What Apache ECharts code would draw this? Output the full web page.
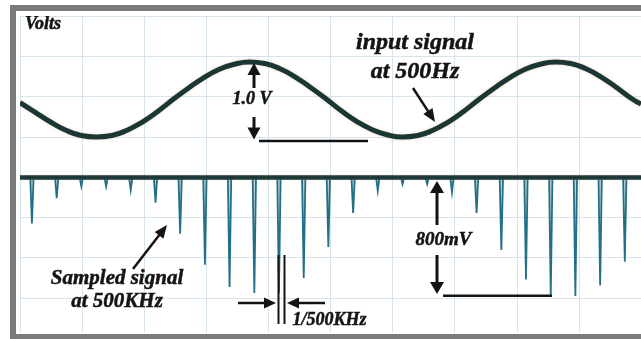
<!DOCTYPE html>
<html>
<head>
<meta charset="utf-8">
<script src="https://cdn.jsdelivr.net/npm/echarts@6/dist/echarts.min.js"></script>
<style>
  html, body { margin: 0; padding: 0; background: #fff; }
  #chart { width: 641px; height: 339px; }
</style>
</head>
<body>
<div id="chart"></div>
<script>
// Scope capture: 500 Hz input (channel 1) and its 500 kHz sampled version (channel 2).

// Time samples of the channel 1 trace, in microseconds
const INPUT_TIME_US = [
  0, 100, 200, 300, 400, 500, 600, 700, 800, 900,
  1000, 1100, 1200, 1300, 1400, 1500, 1600, 1700, 1800, 1900,
  2000, 2100, 2200, 2300, 2400, 2500, 2600, 2700, 2800, 2900,
  3000, 3100, 3200, 3300, 3400, 3500, 3600, 3700, 3800, 3900,
  4000, 4060
];
// Channel 1 voltage (1.0 V peak to peak)
const INPUT_V = [
  -0.04, -0.17, -0.30, -0.41, -0.48, -0.50, -0.48, -0.41, -0.30, -0.16,
  0.00, 0.15, 0.29, 0.40, 0.47, 0.50, 0.48, 0.41, 0.30, 0.16,
  0.01, -0.15, -0.29, -0.40, -0.47, -0.50, -0.48, -0.41, -0.30, -0.16,
  0.00, 0.15, 0.29, 0.40, 0.47, 0.50, 0.48, 0.41, 0.30, 0.16,
  0.01, -0.06
];

// Channel 2: time of each sampling pulse (microseconds) and its depth below the baseline (volts)
const SPIKE_TIME_US = [
  78, 240, 401, 563, 724, 886, 1047, 1209, 1370, 1532,
  1693, 1855, 2016, 2178, 2339, 2501, 2662, 2824, 2985, 3147,
  3308, 3470, 3631, 3793, 3954
];
const SPIKE_DEPTH_V = [
  0.31, 0.14, 0.06, 0.06, 0.085, 0.17, 0.38, 0.59, 0.74, 0.78,
  0.78, 0.68, 0.47, 0.24, 0.09, 0.045, 0.045, 0.10, 0.24, 0.49,
  0.69, 0.80, 0.80, 0.73, 0.57
];

// Screen graticule
const TIME_SPAN_US = 4060;
const TIME_DIV_US = 406;
const V_DIVS = 8;
// Channel settings: volts per division and zero level (divisions below the top)
const CH1 = { vPerDiv: 0.5367, zeroDiv: 2.075 };
const CH2 = { vPerDiv: 0.272, zeroDiv: 4.012 };

const INK = '#141414';
const FONT = '"Liberation Serif", "Times New Roman", serif';

const inputData = INPUT_TIME_US.map((t, i) => [t, INPUT_V[i]]);

const PULSE_HALF_US = 11;
const sampledData = [[0, 0]];
SPIKE_TIME_US.forEach((t, i) => {
  sampledData.push([t - PULSE_HALF_US, 0], [t, -SPIKE_DEPTH_V[i]], [t + PULSE_HALF_US, 0]);
});
sampledData.push([TIME_SPAN_US, 0]);

function label(text, x, y, size, align) {
  return {
    type: 'text', z: 50,
    style: {
      text: text, x: x, y: y,
      font: 'italic bold ' + size + 'px ' + FONT,
      fill: INK, stroke: INK, lineWidth: 0.5,
      align: align || 'center', verticalAlign: 'middle',
      textAlign: align || 'center', textVerticalAlign: 'middle'
    }
  };
}

function arrow(x1, y1, x2, y2, headLen, headW, width) {
  const dx = x2 - x1, dy = y2 - y1;
  const len = Math.sqrt(dx * dx + dy * dy);
  const ux = dx / len, uy = dy / len;
  const bx = x2 - ux * headLen, by = y2 - uy * headLen;
  const px = -uy * headW / 2, py = ux * headW / 2;
  return [
    { type: 'line', z: 50, shape: { x1: x1, y1: y1, x2: bx + ux, y2: by + uy },
      style: { stroke: INK, lineWidth: width } },
    { type: 'polygon', z: 50,
      shape: { points: [[x2, y2], [bx + px, by + py], [bx - px, by - py]] },
      style: { fill: INK } }
  ];
}

function bar(x1, y1, x2, y2, width) {
  return { type: 'line', z: 50, shape: { x1: x1, y1: y1, x2: x2, y2: y2 },
    style: { stroke: INK, lineWidth: width } };
}

const FRAME = '#7b7b7b';
const frame = [
  { type: 'rect', z: 100, shape: { x: 16, y: 11, width: 630, height: 5 }, style: { fill: '#fff' } },
  { type: 'rect', z: 100, shape: { x: 16, y: 11, width: 4, height: 323 }, style: { fill: '#fff' } },
  { type: 'rect', z: 100, shape: { x: 16, y: 333, width: 630, height: 1 }, style: { fill: '#fff' } },
  { type: 'rect', z: 101, shape: { x: 10, y: 5, width: 640, height: 6 }, style: { fill: FRAME } },
  { type: 'rect', z: 101, shape: { x: 10, y: 5, width: 6, height: 340 }, style: { fill: FRAME } },
  { type: 'rect', z: 101, shape: { x: 10, y: 334, width: 640, height: 6 }, style: { fill: FRAME } }
];

const notes = [].concat(
  label('Volts', 25, 24.5, 18, 'left'),
  label('input signal', 415, 43, 24),
  label('at 500Hz', 415, 71.5, 24),
  arrow(413, 88, 435, 122, 13, 11, 2.5),
  // 1.0 V bracket on the input trace
  label('1.0 V', 252, 99.5, 18),
  arrow(254, 88, 254, 63, 12, 13, 3),
  arrow(254, 117, 254, 139.5, 12, 13, 3),
  bar(259, 141, 368, 141, 2.5),
  // 800 mV bracket on the sampled trace
  label('800mV', 443.5, 240, 19),
  arrow(437, 225, 437, 181, 12, 14, 3),
  arrow(437, 255, 437, 294, 12, 14, 3),
  bar(443, 295.7, 552, 295.7, 2.5),
  label('Sampled signal', 117, 279, 21),
  label('at 500KHz', 117, 301.5, 21),
  arrow(133, 269, 167, 225, 13, 11, 2.5),
  // sampling period marker
  bar(278.5, 255, 278.5, 324, 2),
  bar(284.5, 255, 284.5, 324, 2),
  arrow(238, 303, 276, 303, 12, 11, 2.5),
  arrow(325, 303, 287, 303, 12, 11, 2.5),
  label('1/500KHz', 329.5, 320.5, 18)
);

const chart = echarts.init(document.getElementById('chart'), null, { renderer: 'canvas' });
chart.setOption({
  animation: false,
  backgroundColor: '#fff',
  grid: { left: 20, top: 16, width: 626, height: 322, containLabel: false },
  xAxis: {
    type: 'value', min: 0, max: TIME_SPAN_US, interval: TIME_DIV_US,
    axisLine: { show: false }, axisTick: { show: false }, axisLabel: { show: false },
    splitLine: { show: true, lineStyle: { color: '#d6e5ec', width: 1 } }
  },
  yAxis: [
    {
      type: 'value', min: 0, max: V_DIVS, interval: 1,
      axisLine: { show: false }, axisTick: { show: false }, axisLabel: { show: false },
      splitLine: { show: true, lineStyle: { color: '#d6e5ec', width: 1 } }
    },
    {
      type: 'value', show: false,
      max: CH1.zeroDiv * CH1.vPerDiv, min: -(V_DIVS - CH1.zeroDiv) * CH1.vPerDiv
    },
    {
      type: 'value', show: false,
      max: CH2.zeroDiv * CH2.vPerDiv, min: -(V_DIVS - CH2.zeroDiv) * CH2.vPerDiv
    }
  ],
  series: [
    {
      name: 'input', type: 'line', yAxisIndex: 1, data: inputData,
      smooth: 0.5, symbol: 'none', z: 3,
      lineStyle: { color: '#183735', width: 5,
        shadowColor: 'rgba(235,150,120,0.45)', shadowBlur: 3 }
    },
    {
      name: 'sampled', type: 'line', yAxisIndex: 2, data: sampledData,
      symbol: 'none', z: 2,
      lineStyle: { color: '#236f86', width: 1.8, join: 'miter' },
      areaStyle: { color: '#aebabd', origin: 0 }
    },
    {
      name: 'baseline', type: 'line', yAxisIndex: 2,
      data: [[0, 0], [TIME_SPAN_US, 0]],
      symbol: 'none', z: 4,
      lineStyle: { color: '#1b3a39', width: 4.5,
        shadowColor: 'rgba(235,150,120,0.4)', shadowBlur: 2 }
    }
  ],
  graphic: { elements: notes.concat(frame) }
});
</script>
</body>
</html>
